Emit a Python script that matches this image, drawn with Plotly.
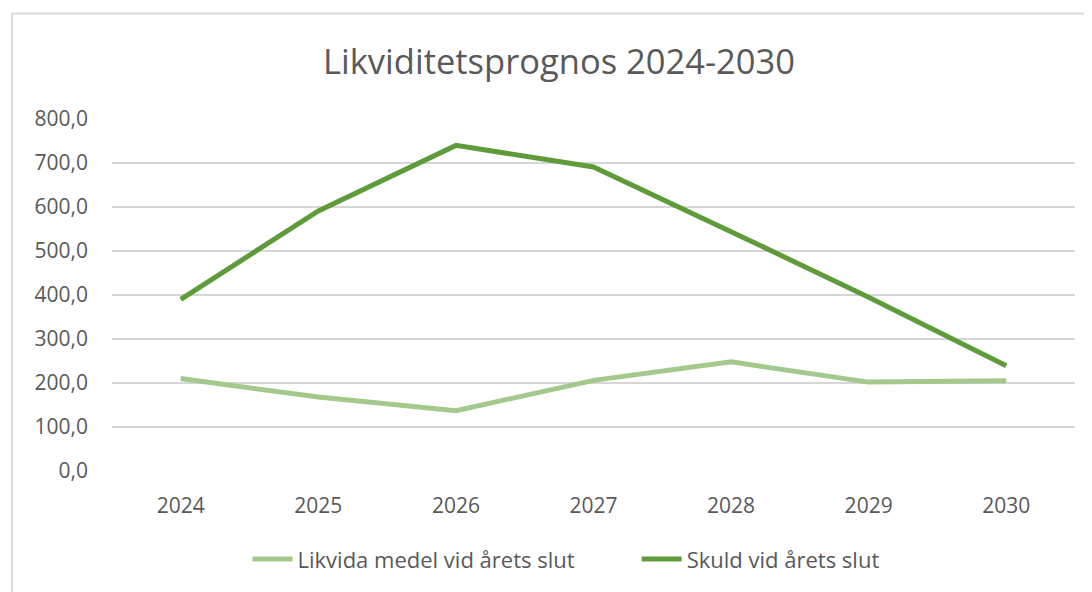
import plotly.graph_objects as go

years = ["2024", "2025", "2026", "2027", "2028", "2029", "2030"]
likvida = [210, 168, 137, 206, 248, 202, 205]
skuld = [390, 591, 740, 691, 544, 395, 239]
y_ticks = [0, 100, 200, 300, 400, 500, 600, 700, 800]
series_names = ["Likvida medel vid årets slut", "Skuld vid årets slut"]

# page offset of the plot div (browser body margin)
OFF = 8
PAGE_W, PAGE_H = 1092, 592
W, H = PAGE_W - OFF, PAGE_H - OFF
# plot area in page pixels
PX0, PX1, PY0, PY1 = 112, 1075, 118.5, 470.7
L = PX0 - OFF
R = PAGE_W - PX1
T = PY0 - OFF
B = PAGE_H - PY1
pw = PX1 - PX0
ph = PY1 - PY0

def px_x(x):
    return (x - PX0) / pw

def px_y(y):
    return (PY1 - y) / ph

FONT = "Open Sans"
GREY = "#595959"
NBSP = "\u00a0"

fig = go.Figure()
fig.add_trace(go.Scatter(x=years, y=likvida, mode="lines", name=series_names[0] + NBSP * 10,
                         line=dict(color="#A3C98D", width=5)))
fig.add_trace(go.Scatter(x=years, y=skuld, mode="lines", name=series_names[1],
                         line=dict(color="#5F9B3B", width=5)))

fig.update_layout(
    width=W, height=H,
    margin=dict(l=L, r=R, t=T, b=B, autoexpand=False),
    paper_bgcolor="white", plot_bgcolor="white",
    separators=", ",
    title=dict(text="Likviditetsprognos 2024-2030", x=(559 - OFF) / W, xref="container", xanchor="center",
               y=1 - (62 - OFF) / H, yanchor="middle", yref="container",
               font=dict(family=FONT, size=34.5, color=GREY)),
    font=dict(family=FONT, size=21, color=GREY),
    showlegend=True,
    legend=dict(orientation="h", x=px_x(566), xanchor="center", y=px_y(559), yanchor="middle",
                font=dict(family=FONT, size=22, color=GREY), itemwidth=40,
                bgcolor="rgba(0,0,0,0)"),
    xaxis=dict(type="category", range=[-0.5, 6.5], showgrid=False, zeroline=False,
               showline=False, ticks="", tickfont=dict(size=21, color=GREY), ticklabelstandoff=20),
    yaxis=dict(range=[0, 800], tickvals=y_ticks, tickformat=".1f", showgrid=True,
               gridcolor="#D6D6D6", gridwidth=1.6, zeroline=False, showline=False, ticks="",
               tickfont=dict(size=21, color=GREY), ticklabelstandoff=23, fixedrange=True),
    shapes=[
        dict(type="line", xref="paper", yref="paper", x0=px_x(12), x1=px_x(1100), y0=px_y(13), y1=px_y(13),
             line=dict(color="#D9D9D9", width=2)),
        dict(type="line", xref="paper", yref="paper", x0=px_x(12), x1=px_x(12), y0=px_y(13), y1=px_y(600),
             line=dict(color="#D9D9D9", width=2)),
    ],
)

fig.write_html("out.html")
